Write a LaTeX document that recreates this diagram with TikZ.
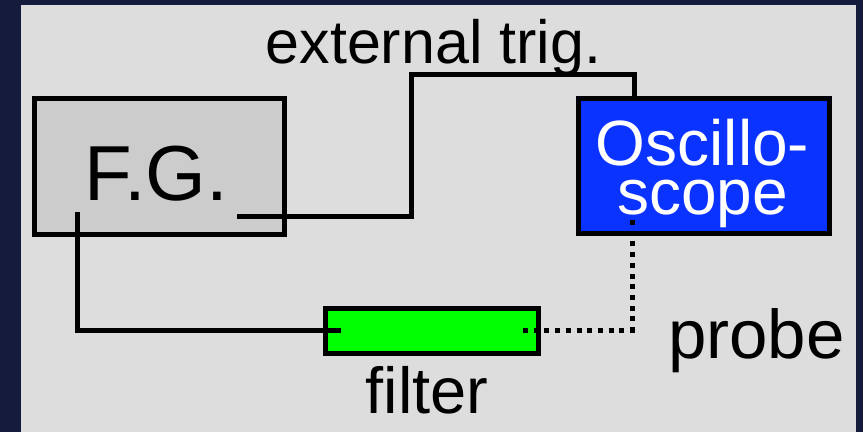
\documentclass[tikz,border=0pt]{standalone}
\usepackage{fontspec}
\setmainfont{Liberation Sans}
\definecolor{bgdark}{HTML}{151B3A}
\definecolor{panel}{HTML}{DDDDDD}
\definecolor{fgfill}{HTML}{CCCCCC}
\definecolor{oscblue}{HTML}{0B33FF}
\definecolor{filtgreen}{HTML}{00FF00}
\begin{document}
\begin{tikzpicture}[x=1pt,y=-1pt,
  boxstyle/.style={draw=black,line width=5pt,inner sep=0pt,outer sep=0pt},
  wire/.style={line width=5pt,line join=miter},
  probewire/.style={line width=5pt,dash pattern=on 5pt off 5.7pt},
  lbl/.style={anchor=base,inner sep=0pt,text=black}]
\useasboundingbox (0,0) rectangle (863,432);
\fill[bgdark] (0,0) rectangle (863,432);
\fill[panel] (21,5) rectangle (856,432);
% boxes
\node[boxstyle,fill=fgfill,minimum width=250pt,minimum height=136pt] (fg) at (159.5,166.5) {};
\node[boxstyle,fill=oscblue,minimum width=251pt,minimum height=135pt] (osc) at (704,166) {};
\node[boxstyle,fill=filtgreen,minimum width=213pt,minimum height=45pt] (filt) at (432,331) {};
% connector end points
\coordinate (fgtrig) at (237,216);
\coordinate (bend) at (411,74);
\coordinate (osctrig) at (634,98.5);
\coordinate (fgout) at (77,212);
\coordinate (filtin) at (341,330);
\coordinate (filtout) at (523,330);
\coordinate (probetip) at (632,213);
% connectors
\draw[wire] (fgtrig) -| (bend) -| (osctrig);
\draw[wire] (fgout) |- (filtin);
\draw[probewire] (filtout) -| (probetip);
% labels
\node[lbl,font=\fontsize{61}{61}\selectfont] (trig) at (433.5,63) {external trig.};
\node[lbl,font=\fontsize{78}{78}\selectfont] (fglbl) at (156.5,200) {F.G.};
\node[lbl,font=\fontsize{64}{49}\selectfont,text=white,align=center,anchor=base] (osclbl) at (702.5,214) {Oscillo-\\scope};
\node[lbl,font=\fontsize{69}{69}\selectfont] (probe) at (756.5,358) {probe};
\node[lbl,font=\fontsize{65}{65}\selectfont] (filtlbl) at (427,413) {filter};
\end{tikzpicture}
\end{document}
